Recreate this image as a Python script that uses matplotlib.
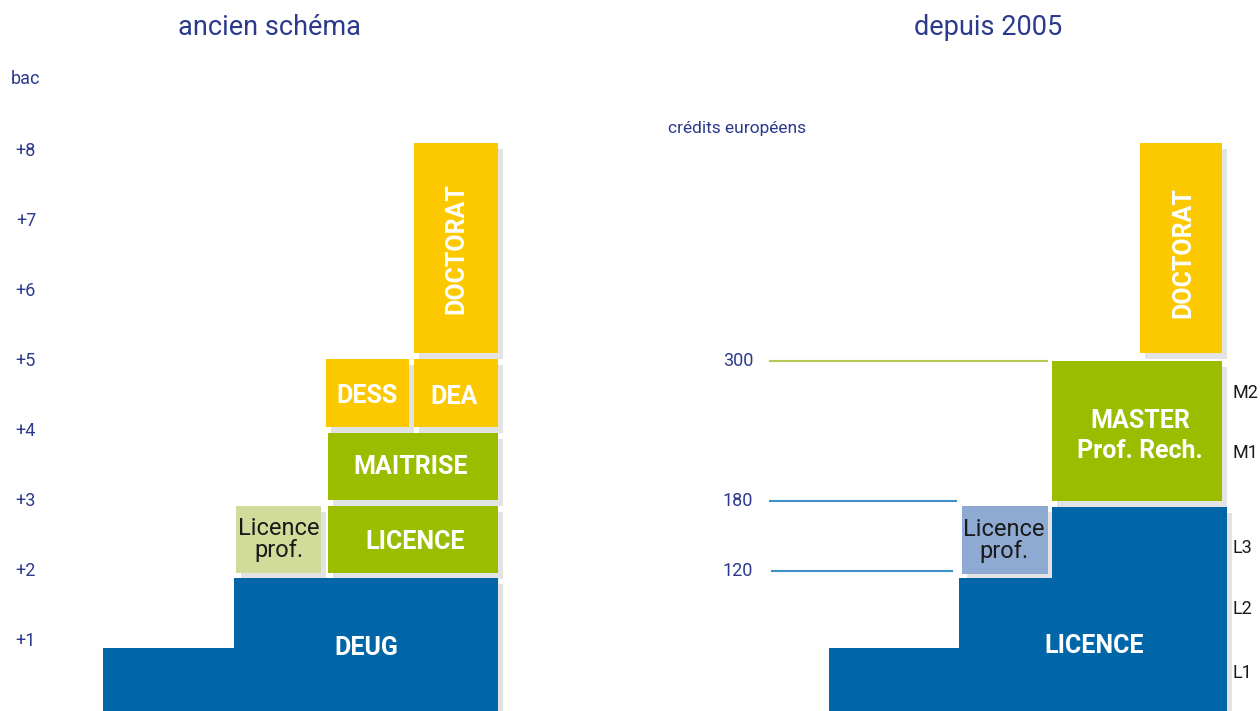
import matplotlib
matplotlib.use("Agg")
import matplotlib.pyplot as plt
from matplotlib import font_manager

# --- fonts: prefer a condensed sans if one is installed ---
names = {f.name for f in font_manager.fontManager.ttflist}
COND = "Liberation Sans Narrow" if "Liberation Sans Narrow" in names else "Roboto"
plt.rcParams['font.family'] = [COND, 'DejaVu Sans']

NAVY = '#2b3a8c'
BLUE = '#0066a8'
GREEN = '#9bbd00'
YELLOW = '#fcc800'
PALE_GREEN = '#d1dc9b'
PALE_BLUE = '#8eaad3'
SHADOW = '#e3e3e3'

# --- data: ancien schéma (years after the bac) ---
old_labels = ['', 'DEUG', 'Licence\nprof.', 'LICENCE', 'MAITRISE', 'DESS', 'DEA', 'DOCTORAT']
old_start = [0.0, 0.0, 1.97, 1.97, 3.01, 4.06, 4.06, 5.11]
old_end = [0.90, 1.90, 2.93, 2.93, 3.97, 5.03, 5.03, 8.11]
old_ticks = [1, 2, 3, 4, 5, 6, 7, 8]
old_tick_labels = ['+1', '+2', '+3', '+4', '+5', '+6', '+7', '+8']

# --- data: depuis 2005 (crédits européens) ---
new_labels = ['', 'LICENCE', '', 'Licence\nprof.', 'MASTER\nProf. Rech.', 'DOCTORAT']
new_start = [0, 0, 0, 117.4, 180, 307]
new_end = [54, 114, 175, 175.7, 300, 487]
credit_ticks = [300, 180, 120]
year_marks = ['L1', 'L2', 'L3', 'M1', 'M2']
year_mark_pos = [33, 87, 140, 221, 273]

# layout (pixel columns) and styles for each block
old_x = [(103, 234), (234, 498), (236, 321), (328, 498), (328, 498), (326, 409), (414, 498), (414, 498)]
old_col = [BLUE, BLUE, PALE_GREEN, GREEN, GREEN, YELLOW, YELLOW, YELLOW]
old_txt = [None, (366, 0.90), (279, 2.45), (415, 2.41), (411, 3.48), (367, 4.50), (454, 4.48), (456, 6.6)]

new_x = [(829, 959), (959, 1227), (1052, 1227), (962, 1048), (1052, 1222), (1140, 1222)]
new_col = [BLUE, BLUE, BLUE, PALE_BLUE, GREEN, YELLOW]
new_txt = [None, (1094, 56), None, (1004, 146), (1140, 236), (1183, 393)]

W, H = 1260, 711
PX_YEAR = 70.0
fig = plt.figure(figsize=(W / 100, H / 100), dpi=100)
fig.patch.set_facecolor('white')

axL = fig.add_axes([0, 0, 630 / W, 1])
axR = fig.add_axes([630 / W, 0, 630 / W, 1])
axL.set_xlim(0, 630)
axL.set_ylim(0, H / PX_YEAR)
axR.set_xlim(630, 1260)
axR.set_ylim(0, H / PX_YEAR * 60)
for ax in (axL, axR):
    ax.axis('off')


def draw_blocks(ax, xs, starts, ends, cols, px_unit):
    dx, dy = 5, 6 / px_unit
    for (x0, x1), s, e in zip(xs, starts, ends):
        ax.bar(x0 + dx, e - s, width=x1 - x0, bottom=s - dy, align='edge',
               color=SHADOW, linewidth=0, zorder=1)
    for (x0, x1), s, e, c in zip(xs, starts, ends, cols):
        ax.bar(x0, e - s, width=x1 - x0, bottom=s, align='edge',
               color=c, linewidth=0, zorder=2)


def draw_labels(ax, labels, txt, cols):
    for lab, pos, c in zip(labels, txt, cols):
        if pos is None or not lab:
            continue
        if lab.startswith('Licence'):
            ax.text(pos[0], pos[1], lab, ha='center', va='center', color='#1a1a1a',
                    fontsize=17, linespacing=0.95, zorder=3)
        elif lab == 'DOCTORAT':
            ax.text(pos[0], pos[1], lab, ha='center', va='center', color='white',
                    fontsize=18, fontweight='bold', rotation=90, zorder=3)
        else:
            ax.text(pos[0], pos[1], lab, ha='center', va='center', color='white',
                    fontsize=18, fontweight='bold', linespacing=1.3, zorder=3)


# left panel
draw_blocks(axL, old_x, old_start, old_end, old_col, PX_YEAR)
draw_labels(axL, old_labels, old_txt, old_col)
for t, lab in zip(old_ticks, old_tick_labels):
    axL.text(26, t, lab, ha='center', va='center', color=NAVY, fontsize=13)
axL.text(26, (H - 79) / PX_YEAR, 'bac', ha='center', va='center', color=NAVY, fontsize=13)
axL.text(270, (H - 28) / PX_YEAR, 'ancien schéma', ha='center', va='center',
         color=NAVY, fontsize=19.5)

# right panel
px_credit = PX_YEAR / 60
draw_blocks(axR, new_x, new_start, new_end, new_col, px_credit)
draw_labels(axR, new_labels, new_txt, new_col)
line_spans = [(770, 1047, '#b4cc55'), (770, 956, '#3f8fc8'), (772, 952, '#3f8fc8')]
for v, (x0, x1, c) in zip(credit_ticks, line_spans):
    axR.plot([x0, x1], [v, v], color=c, linewidth=1.5, zorder=1)
    axR.text(738, v, str(v), ha='center', va='center', color=NAVY, fontsize=13)
axR.text(668, (H - 128) * 60 / PX_YEAR, 'crédits européens', ha='left', va='center',
         color=NAVY, fontsize=12.5)
for lab, v in zip(year_marks, year_mark_pos):
    axR.text(1233, v, lab, ha='left', va='center', color='#1a1a1a', fontsize=13)
axR.text(988, (H - 28) * 60 / PX_YEAR, 'depuis 2005', ha='center', va='center',
         color=NAVY, fontsize=19.5)

fig.savefig('out.png', dpi=100, facecolor='white')
